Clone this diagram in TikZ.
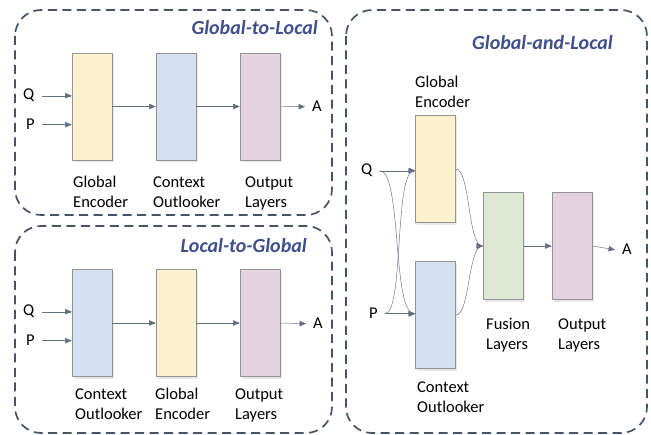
\documentclass[tikz,border=0pt]{standalone}
\usepackage{fontspec}
\setmainfont{Carlito}
\usetikzlibrary{arrows,shadows}
\definecolor{frameblue}{HTML}{44546A}
\definecolor{titleblue}{HTML}{3F4E8C}
\definecolor{encyellow}{HTML}{FBF1CD}
\definecolor{ctxblue}{HTML}{D5E1F1}
\definecolor{outpink}{HTML}{E3D3DE}
\definecolor{fusegreen}{HTML}{DEE8D5}

\begin{document}
\begin{tikzpicture}[x=1pt,y=-1pt,
		frame/.style={draw=frameblue, line width=1.7pt, dash pattern=on 9pt off 5.5pt, rounded corners=26pt},
		title/.style={anchor=base east, inner sep=0pt, text=titleblue, font=\fontsize{20}{24}\selectfont\bfseries\itshape},
		block/.style={draw=gray!85, line width=0.7pt, minimum width=40pt, minimum height=107pt, inner sep=0pt,
			drop shadow={opacity=0.18, shadow xshift=1.5pt, shadow yshift=-2.5pt}},
		lbl/.style={anchor=base west, align=left, inner sep=0pt, font=\fontsize{16.5}{20}\selectfont},
		io/.style={anchor=base west, inner sep=0pt, font=\fontsize{16.5}{20}\selectfont},
		flow/.style={->, >=triangle 45, draw=frameblue!85, line width=0.45pt}]
		\useasboundingbox (0,0) rectangle (651,435);

		% Global-to-Local
		\draw [frame] (15,10) rectangle (332,215);
		\node [title] (t1) at (318,35) {Global-to-Local};
		\node [block, fill=encyellow] (ge1) at (92,106.5) {};
		\node [block, fill=ctxblue] (co1) at (176,106.5) {};
		\node [block, fill=outpink] (ol1) at (260,106.5) {};
		\node [io] (q1) at (23,100) {Q};
		\node [io] (p1) at (26,130) {P};
		\node [io] (a1) at (312,112) {A};
		\node [lbl] (ge1l) at (73,208) {Global\\Encoder};
		\node [lbl] (co1l) at (153,208) {Context\\Outlooker};
		\node [lbl] (ol1l) at (245,208) {Output\\Layers};
		\draw [flow] ([xshift=7pt]q1.east) -- (q1.east -| ge1.west);
		\draw [flow] ([xshift=7pt]p1.east) -- (p1.east -| ge1.west);
		\draw [flow] (ge1.east) -- (co1.west);
		\draw [flow] (co1.east) -- (ol1.west);
		\draw [flow] (ol1.east) -- ([xshift=-7pt]a1.west);

		% Local-to-Global
		\draw [frame] (15,226) rectangle (332,433);
		\node [title] (t2) at (307,253) {Local-to-Global};
		\node [block, fill=ctxblue] (co2) at (92,323) {};
		\node [block, fill=encyellow] (ge2) at (176,323) {};
		\node [block, fill=outpink] (ol2) at (260,323) {};
		\node [io] (q2) at (23,316) {Q};
		\node [io] (p2) at (26,346) {P};
		\node [io] (a2) at (313,329) {A};
		\node [lbl] (co2l) at (75,420) {Context\\Outlooker};
		\node [lbl] (ge2l) at (155,420) {Global\\Encoder};
		\node [lbl] (ol2l) at (235,420) {Output\\Layers};
		\draw [flow] ([xshift=7pt]q2.east) -- (q2.east -| co2.west);
		\draw [flow] ([xshift=7pt]p2.east) -- (p2.east -| co2.west);
		\draw [flow] (co2.east) -- (ge2.west);
		\draw [flow] (ge2.east) -- (ol2.west);
		\draw [flow] (ol2.east) -- ([xshift=-7pt]a2.west);

		% Global-and-Local
		\draw [frame] (346,10) rectangle (647,433);
		\node [title] (t3) at (613,50) {Global-and-Local};
		\node [block, fill=encyellow] (ge3) at (435.5,169) {};
		\node [block, fill=ctxblue] (co3) at (435.5,315) {};
		\node [block, fill=fusegreen] (fu3) at (503.5,246) {};
		\node [block, fill=outpink] (ol3) at (572,246) {};
		\node [io] (q3) at (361,175) {Q};
		\node [io] (p3) at (369,319) {P};
		\node [io] (a3) at (622,255) {A};
		\node [lbl] (ge3l) at (415,108) {Global\\Encoder};
		\node [lbl] (co3l) at (417,413) {Context\\Outlooker};
		\node [lbl] (fu3l) at (486,350) {Fusion\\Layers};
		\node [lbl] (ol3l) at (558,350) {Output\\Layers};
		\draw [flow] ([xshift=7pt]q3.east) -- (q3.east -| ge3.west);
		\draw [flow] ([xshift=7pt]p3.east) -- (p3.east -| co3.west);
		\draw [flow] ([xshift=7pt]q3.east) .. controls (402,170) and (392,314) .. (p3.east -| co3.west);
		\draw [flow] ([xshift=7pt]p3.east) .. controls (404,314) and (394,170) .. (q3.east -| ge3.west);
		\draw [flow] (ge3.east) .. controls (470,169) and (468,246) .. (fu3.west);
		\draw [flow] (co3.east) .. controls (470,315) and (468,246) .. (fu3.west);
		\draw [flow] (fu3.east) -- (ol3.west);
		\draw [flow] (ol3.east) -- ([xshift=-7pt]a3.west);
	\end{tikzpicture}
\end{document}
